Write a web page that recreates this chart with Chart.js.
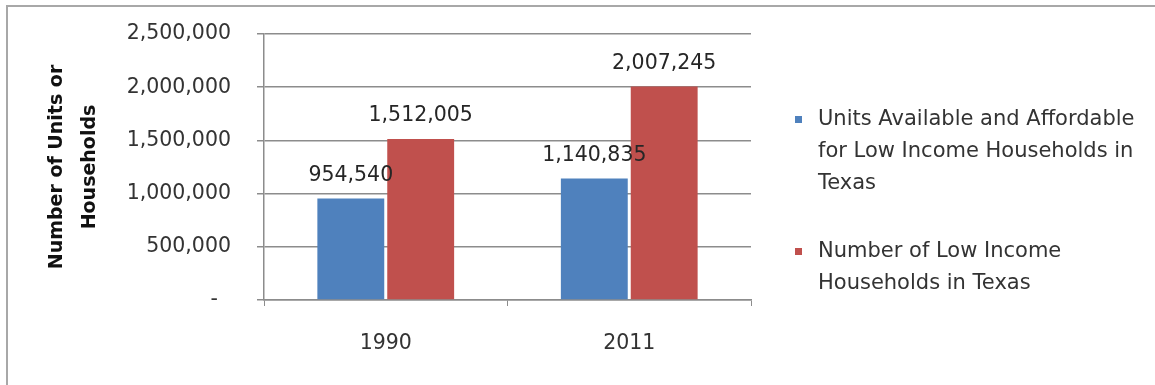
<!DOCTYPE html>
<html>
<head>
<meta charset="utf-8">
<script src="https://cdn.jsdelivr.net/npm/chart.js@4"></script>
<style>
  html, body { margin: 0; padding: 0; background: #fff; }
  #frame {
    position: absolute; left: 6px; top: 5px; right: 0; bottom: 0;
    border-top: 2px solid #a8a8a8; border-left: 2px solid #a8a8a8;
  }
  #wrap { position: absolute; left: 0; top: 0; width: 1155px; height: 385px; }
</style>
</head>
<body>
<div id="frame"></div>
<div id="wrap"><canvas id="housingChart" width="1155" height="385"></canvas></div>
<script>
// Anos e séries
const years = ["1990", "2011"];
const unitsAffordable = [954540, 1140835];
const lowIncomeHouseholds = [1512005, 2007245];
const yTicks = [0, 500000, 1000000, 1500000, 2000000, 2500000];

const seriesNames = [
    ["Units Available and Affordable", "for Low Income Households in", "Texas"],
    ["Number of Low Income", "Households in Texas"],
];

const FONT = "'DejaVu Sans', Verdana, sans-serif";
const fmt = v => v.toLocaleString("en-US");

// Rótulos de valor acima de cada barra
const valueLabels = {
    id: "valueLabels",
    afterDatasetsDraw(chart) {
        const ctx = chart.ctx;
        ctx.save();
        ctx.font = "20.5px " + FONT;
        ctx.fillStyle = "#262626";
        ctx.textAlign = "center";
        ctx.textBaseline = "middle";
        chart.data.datasets.forEach((ds, i) => {
            chart.getDatasetMeta(i).data.forEach((bar, j) => {
                ctx.fillText(fmt(ds.data[j]), bar.x, bar.y - 23);
            });
        });
        ctx.restore();
    }
};

// Legenda à direita com texto quebrado em linhas
const sideLegend = {
    id: "sideLegend",
    afterDraw(chart) {
        const ctx = chart.ctx;
        const x = chart.chartArea.right + 44;
        const starts = [120, 252];
        ctx.save();
        ctx.font = "21px " + FONT;
        ctx.textAlign = "left";
        ctx.textBaseline = "middle";
        chart.data.datasets.forEach((ds, i) => {
            const y0 = starts[i];
            ctx.fillStyle = ds.backgroundColor;
            ctx.fillRect(x, y0 - 4, 7, 7);
            ctx.fillStyle = "#333";
            seriesNames[i].forEach((line, k) => {
                ctx.fillText(line, x + 23, y0 + k * 32);
            });
        });
        ctx.restore();
    }
};

const config = {
    type: "bar",
    data: {
        labels: years,
        datasets: [
            {
                label: seriesNames[0].join(" "),
                data: unitsAffordable,
                backgroundColor: "#4f81bd",
            },
            {
                label: seriesNames[1].join(" "),
                data: lowIncomeHouseholds,
                backgroundColor: "#c0504d",
            },
        ],
    },
    options: {
        responsive: false,
        animation: false,
        categoryPercentage: 0.574,
        barPercentage: 0.957,
        layout: { padding: { left: 0, top: 34, right: 404, bottom: 0 } },
        plugins: {
            legend: { display: false },
            tooltip: { enabled: false },
        },
        scales: {
            x: {
                afterFit: s => { s.height = 85; },
                grid: {
                    offset: true,
                    drawOnChartArea: false,
                    drawTicks: true,
                    tickLength: 6,
                    color: "#8c8c8c",
                },
                border: { color: "#8c8c8c", width: 1.5 },
                ticks: {
                    color: "#333",
                    font: { family: FONT, size: 20.5 },
                    padding: 25,
                },
            },
            y: {
                min: 0,
                max: 2500000,
                afterFit: s => {
                    s.width = 264;
                    s.paddingTop = 0;
                    s.paddingBottom = 0;
                },
                afterBuildTicks: s => { s.ticks = yTicks.map(v => ({ value: v })); },
                grid: {
                    color: "#8c8c8c",
                    lineWidth: 1.5,
                    tickLength: 7,
                },
                border: { color: "#8c8c8c", width: 1.5 },
                ticks: {
                    color: "#333",
                    font: { family: FONT, size: 20.5 },
                    padding: 26,
                    callback: v => (v === 0 ? "-  " : fmt(v)),
                },
                title: {
                    display: true,
                    text: ["Number of Units or", "Households"],
                    color: "#111",
                    font: { family: FONT, size: 19, weight: "bold", lineHeight: 1.75 },
                    padding: { top: 40 },
                },
            },
        },
    },
    plugins: [valueLabels, sideLegend],
};

new Chart(document.getElementById("housingChart").getContext("2d"), config);
</script>
</body>
</html>
